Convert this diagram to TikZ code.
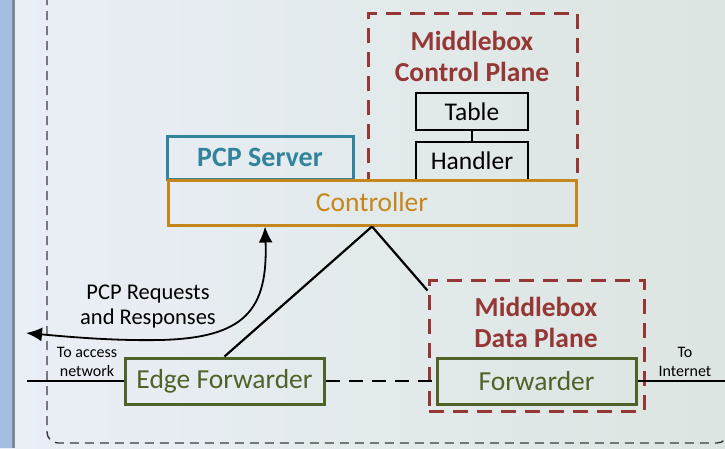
\documentclass[tikz,border=0pt]{standalone}
\usepackage{fontspec}
\setmainfont{Carlito}
\usetikzlibrary{arrows.meta,calc}

\definecolor{stripblue}{HTML}{A4BEE0}
\definecolor{stripgray}{HTML}{7F8A96}
\definecolor{bgleft}{HTML}{EAEFF7}
\definecolor{bgright}{HTML}{DCE5E1}
\definecolor{pcpteal}{HTML}{31849B}
\definecolor{ctrlorange}{HTML}{C5861C}
\definecolor{mbred}{HTML}{953735}
\definecolor{fwdgreen}{HTML}{4F6228}
\definecolor{outline}{HTML}{3A3A3A}

\tikzset{
  bigtip/.tip={Latex[length=16pt,width=14pt]},
  box/.style={draw, line width=3pt, inner sep=0pt, align=center},
  bigtxt/.style={font=\fontsize{27.5}{32}\selectfont},
  smallbox/.style={box, line width=2.6pt, minimum width=112pt, font=\fontsize{25.5}{30}\selectfont},
  titletxt/.style={font=\fontsize{27.5}{31}\selectfont\bfseries, text=mbred, align=center},
  planebox/.style={draw=mbred, line width=3pt, dash pattern=on 15pt off 9pt, inner sep=0pt},
  smalltxt/.style={font=\fontsize{16}{19}\selectfont, align=center},
  wire/.style={line width=2.2pt, black}
}

\begin{document}
\begin{tikzpicture}[x=1pt, y=-1pt]
  \useasboundingbox (0,0) rectangle (725,448);

  % background and side strip
  \shade[left color=bgleft, right color=bgright] (0,0) rectangle (725,448);
  \fill[stripblue] (0,0) rectangle (12,448);
  \fill[stripgray] (12,0) rectangle (14.5,448);

  % enclosing domain outline
  \draw[outline, line width=1.4pt, dash pattern=on 9pt off 6pt, rounded corners=11pt]
    (47,-30) rectangle (728,443);

  % middlebox control plane
  \node[planebox, minimum width=209pt, minimum height=167pt] (mcp) at (472.5,96.5) {};
  \node[titletxt] (mcptitle) at (472,56) {Middlebox\\Control Plane};
  \node[smallbox, minimum height=37pt] (table) at (472,111.5) {Table};
  \node[smallbox, minimum height=38pt] (handler) at (472,161) {Handler};
  \draw[line width=2.4pt] (table.south) -- (handler.north);

  % PCP server and controller
  \node[box, draw=pcpteal, text=pcpteal, minimum width=186pt, minimum height=43pt,
        font=\fontsize{28}{32}\selectfont\bfseries] (pcp) at (260,157.5) {PCP Server};
  \node[box, draw=ctrlorange, text=ctrlorange, minimum width=408pt, minimum height=45pt, bigtxt] (ctrl) at (372,202.5) {Controller};

  % middlebox data plane
  \node[planebox, minimum width=215pt, minimum height=131pt] (mdp) at (536.5,345.5) {};
  \node[titletxt] (mdptitle) at (536,322) {Middlebox\\Data Plane};

  % forwarders
  \node[box, draw=fwdgreen, text=fwdgreen, minimum width=199pt, minimum height=46pt, bigtxt] (edge) at (224.5,381) {Edge Forwarder};
  \node[box, draw=fwdgreen, text=fwdgreen, minimum width=199pt, minimum height=46pt, bigtxt] (fwd) at (536.5,381) {Forwarder};

  % control connections
  \coordinate (mdpin) at ($(mdp.north west)+(0,12)$);
  \draw[wire] (ctrl.south) -- (edge.north);
  \draw[wire] (ctrl.south) -- (mdpin);

  % data path
  \coordinate (accessend) at (27,381);
  \coordinate (netend) at (725,381);
  \draw[wire] (accessend) -- (edge.west);
  \draw[wire, dash pattern=on 14pt off 9pt] (edge.east) -- (fwd.west);
  \draw[wire] (fwd.east) -- (netend);
  \node[smalltxt] (accesslbl) at (87,362) {To access\\network};
  \node[smalltxt] (netlbl) at (685,362) {To\\Internet};

  % PCP request/response flow
  \coordinate (pcptip) at ($(ctrl.south)+(-107,0)$);
  \coordinate (pcpout) at (26,333);
  \draw[line width=1.8pt, bigtip-bigtip]
    (pcptip) .. controls (268,310) and (245,338) .. (160,340)
             .. controls (110,341) and (60,336) .. (pcpout);
  \node[font=\fontsize{22.5}{25}\selectfont, align=center] (pcplbl) at (148,307) {PCP Requests\\and Responses};
\end{tikzpicture}
\end{document}
